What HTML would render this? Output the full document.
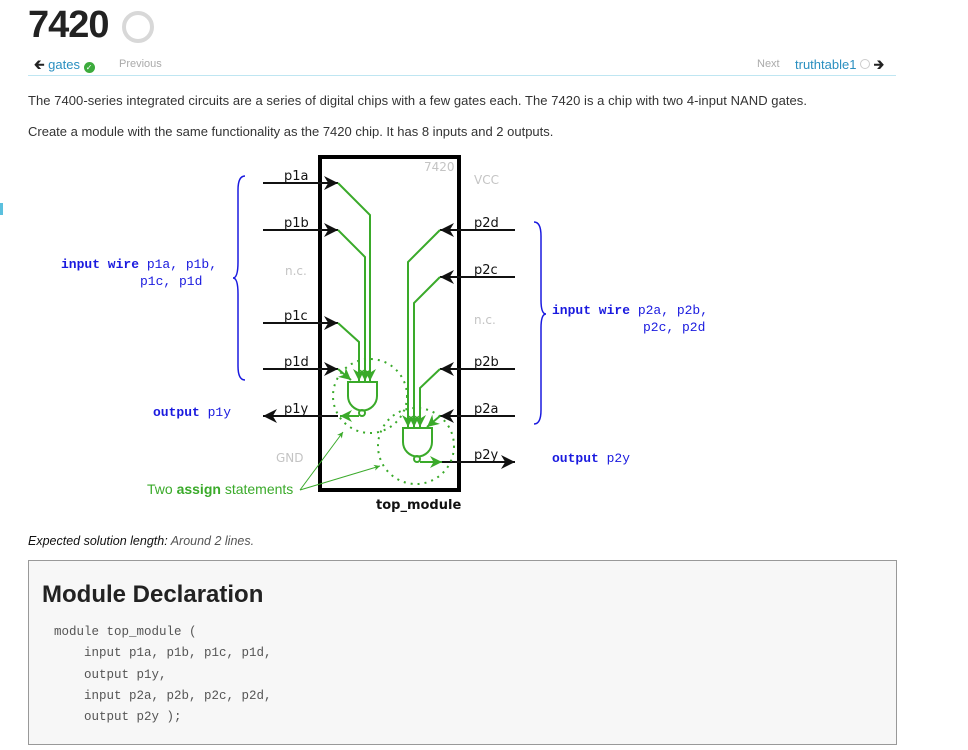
<!DOCTYPE html>
<html><head><meta charset="utf-8"><style>
body{margin:0;width:968px;height:750px;background:#fff;font-family:"Liberation Sans",sans-serif;position:relative;overflow:hidden;color:#333}
.a{position:absolute;white-space:nowrap}
.mono{font-family:"Liberation Mono",monospace}
</style></head><body>
<div class="a" style="left:28px;top:4px;font-size:38px;font-weight:bold;color:#222;letter-spacing:-1px">7420</div>
<div class="a" style="left:122px;top:11px;width:24px;height:24px;border:4px solid #d8d8d8;border-radius:50%"></div>
<div class="a" style="left:34px;top:56px;font-size:13px;color:#2a8fc0"><b style="color:#222">&#129136;</b> gates <span style="display:inline-block;width:11px;height:11px;border-radius:50%;background:#3cab3c;color:#fff;font-size:8px;line-height:11px;text-align:center;vertical-align:-1px">✓</span></div>
<div class="a" style="left:119px;top:58px;font-size:11px;color:#aaa">Previous</div>
<div class="a" style="left:757px;top:58px;font-size:11px;color:#aaa">Next</div>
<div class="a" style="left:795px;top:56px;font-size:13px;color:#2a8fc0">truthtable1 <span style="display:inline-block;width:8px;height:8px;border:1.5px solid #ccc;border-radius:50%"></span> <b style="color:#222">&#129138;</b></div>
<div class="a" style="left:28px;top:75px;width:868px;height:1px;background:#bfe6f2"></div>
<div class="a" style="left:28px;top:93px;font-size:13px;letter-spacing:0.05px;color:#333">The 7400-series integrated circuits are a series of digital chips with a few gates each. The 7420 is a chip with two 4-input NAND gates.</div>
<div class="a" style="left:28px;top:124px;font-size:13px;color:#333">Create a module with the same functionality as the 7420 chip. It has 8 inputs and 2 outputs.</div>
<div class="a" style="left:0;top:203px;width:3px;height:12px;background:#5bc0de"></div>

<svg class="a" style="left:0;top:150px" width="968" height="370" viewBox="0 150 968 370">
<defs>
<marker id="ak" viewBox="0 0 10 10" refX="10" refY="5" markerWidth="7" markerHeight="7" orient="auto"><path d="M0,0 L10,5 L0,10 L3,5z" fill="#111"/></marker>
<marker id="ag" viewBox="0 0 10 10" refX="10" refY="5" markerWidth="6" markerHeight="6" orient="auto"><path d="M0,0 L10,5 L0,10 L3,5z" fill="#3aaa2a"/></marker>
</defs>
<rect x="320" y="157" width="139" height="333" fill="none" stroke="#000" stroke-width="4"/>
<g font-family="DejaVu Sans,sans-serif" font-size="13" fill="#111">
<g stroke="#111" stroke-width="2" marker-end="url(#ak)">
<line x1="263" y1="183" x2="338" y2="183"/><line x1="263" y1="230" x2="338" y2="230"/>
<line x1="263" y1="323" x2="338" y2="323"/><line x1="263" y1="369" x2="338" y2="369"/>
<line x1="338" y1="416" x2="263" y2="416"/>
<line x1="515" y1="230" x2="440" y2="230"/><line x1="515" y1="277" x2="440" y2="277"/>
<line x1="515" y1="369" x2="440" y2="369"/><line x1="515" y1="416" x2="440" y2="416"/>
<line x1="440" y1="462" x2="515" y2="462"/>
</g>
<text x="284" y="180">p1a</text><text x="284" y="227">p1b</text><text x="284" y="320">p1c</text><text x="284" y="366">p1d</text><text x="284" y="413">p1y</text>
<text x="474" y="227">p2d</text><text x="474" y="274">p2c</text><text x="474" y="366">p2b</text><text x="474" y="413">p2a</text><text x="474" y="459">p2y</text>
<g fill="#c4c4c4" font-size="12"><text x="424" y="171">7420</text><text x="474" y="184">VCC</text><text x="285" y="275">n.c.</text><text x="474" y="324">n.c.</text><text x="276" y="462">GND</text></g>
<text x="376" y="509" font-weight="bold" font-size="13">top_module</text>
</g>
<g stroke="#3aaa2a" stroke-width="2" fill="none">
<polyline points="338,183 370,215 370,381" marker-end="url(#ag)"/>
<polyline points="338,230 365,257 365,381" marker-end="url(#ag)"/>
<polyline points="338,323 359,342 359,381" marker-end="url(#ag)"/>
<polyline points="338,369 351,380" marker-end="url(#ag)"/>
<path d="M348,382 H377 V396 A14,14 0 0 1 348,396 Z"/>
<circle cx="362" cy="413" r="3"/>
<line x1="359" y1="416" x2="340" y2="416" marker-end="url(#ag)"/>
<polyline points="440,230 408,262 408,427" marker-end="url(#ag)"/>
<polyline points="440,277 414,303 414,427" marker-end="url(#ag)"/>
<polyline points="440,369 420,388 420,427" marker-end="url(#ag)"/>
<polyline points="440,416 427,427" marker-end="url(#ag)"/>
<path d="M403,428 H432 V442 A14,14 0 0 1 403,442 Z"/>
<circle cx="417" cy="459" r="3"/>
<line x1="420" y1="462" x2="442" y2="462" marker-end="url(#ag)"/>
<g stroke-dasharray="2,5"><circle cx="370" cy="396" r="37"/><circle cx="416" cy="446" r="38"/></g>
<g stroke-width="1"><line x1="300" y1="490" x2="343" y2="432" marker-end="url(#ag)"/><line x1="300" y1="490" x2="380" y2="466" marker-end="url(#ag)"/></g>
</g>
<text x="147" y="494" font-family="Liberation Sans,sans-serif" font-size="14" fill="#3aaa2a">Two <tspan font-weight="bold">assign</tspan> statements</text>
<g stroke="#1a1adf" stroke-width="1.5" fill="none">
<path d="M245,176 Q238,176 238,190 V262 Q238,278 233,278 Q238,278 238,294 V366 Q238,380 245,380"/>
<path d="M534,222 Q541,222 541,236 V300 Q541,314 546,314 Q541,314 541,328 V410 Q541,424 534,424"/>
</g>
<g font-family="Liberation Mono,monospace" font-size="13" font-weight="bold" fill="#1a1adf">
<text x="61" y="268">input wire <tspan font-weight="normal">p1a, p1b,</tspan></text>
<text x="140" y="285" font-weight="normal">p1c, p1d</text>
<text x="153" y="416">output <tspan font-weight="normal">p1y</tspan></text>
<text x="552" y="314">input wire <tspan font-weight="normal">p2a, p2b,</tspan></text>
<text x="643" y="331" font-weight="normal">p2c, p2d</text>
<text x="552" y="462">output <tspan font-weight="normal">p2y</tspan></text>
</g>
</svg>

<div class="a" style="left:28px;top:534px;font-size:12.5px;font-style:italic;color:#222"><span style="color:#111">Expected solution length:</span> <span style="color:#555">Around 2 lines.</span></div>
<div class="a" style="left:28px;top:560px;width:867px;height:183px;background:#f7f7f7;border:1px solid #999"></div>
<div class="a" style="left:42px;top:581px;font-size:24px;font-weight:bold;color:#222">Module Declaration</div>
<div class="a mono" style="left:54px;top:622px;font-size:12.5px;line-height:21.3px;color:#555;white-space:pre">module top_module (
    input p1a, p1b, p1c, p1d,
    output p1y,
    input p2a, p2b, p2c, p2d,
    output p2y );</div>
</body></html>
